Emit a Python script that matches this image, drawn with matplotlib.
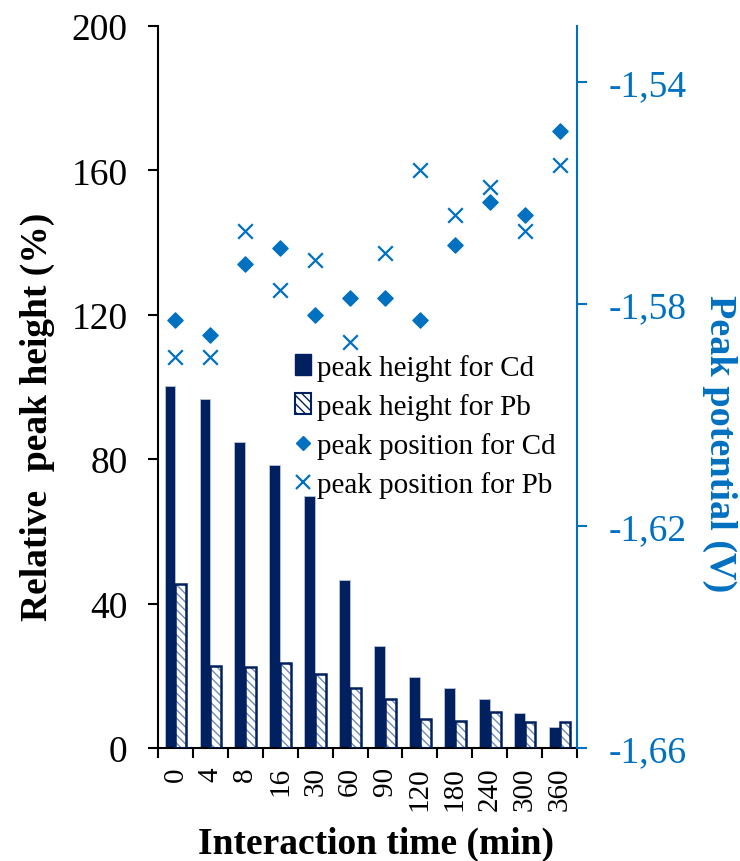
import numpy as np
import matplotlib.pyplot as plt
from matplotlib.lines import Line2D
from matplotlib.patches import Patch

plt.rcParams['font.family'] = ['Liberation Serif', 'DejaVu Serif']

times = ['0', '4', '8', '16', '30', '60', '90', '120', '180', '240', '300', '360']
height_cd = [100.3, 96.7, 84.8, 78.4, 69.8, 46.6, 28.2, 19.7, 16.5, 13.5, 9.8, 5.9]
height_pb = [45.5, 22.7, 22.4, 23.5, 20.5, 16.6, 13.6, 8.0, 7.6, 10.0, 7.2, 7.2]
pos_cd = [-1.5829, -1.5856, -1.5729, -1.5699, -1.5820, -1.5789,
          -1.5789, -1.5829, -1.5695, -1.5616, -1.5640, -1.5489]
pos_pb = [-1.5896, -1.5896, -1.5670, -1.5776, -1.5722, -1.5869,
          -1.5709, -1.5559, -1.5640, -1.5589, -1.5670, -1.5550]

navy = '#002060'
blue = '#0070C0'

W, H = 740, 862
fig = plt.figure(figsize=(W / 100, H / 100), dpi=100)
ax = fig.add_axes([158 / W, 1 - 749 / H, 419 / W, 722 / H])
x = np.arange(len(times))
w = 0.31

ax.bar(x - w / 2, height_cd, w, color=navy, edgecolor='#b8c4d8', linewidth=0.6, zorder=2)
ax.bar(x + w / 2, height_pb, w, color='white', edgecolor='#6f8bb8', hatch='\\\\\\\\',
       linewidth=0, zorder=2)
ax.bar(x + w / 2, height_pb, w, color='none', edgecolor=navy, linewidth=1.8, zorder=3)

ax.set_xlim(-0.5, len(times) - 0.5)
ax.set_ylim(0, 200)
ax.set_yticks([0, 40, 80, 120, 160, 200])
ax.set_xticks(np.arange(len(times) + 1) - 0.5)
ax.set_xticklabels([])
ax.set_xticks(x, minor=True)
ax.set_xticklabels(times, minor=True, rotation=90)
ax.tick_params(axis='x', which='major', direction='out', length=7, width=1.5)
ax.tick_params(axis='x', which='minor', length=0, labelsize=21, pad=13)
ax.tick_params(axis='y', direction='out', length=7, width=1.5, labelsize=27, pad=15)
for s in ['left', 'bottom']:
    ax.spines[s].set_linewidth(1.5)
ax.spines['top'].set_visible(False)
ax.spines['right'].set_visible(False)

ax2 = ax.twinx()
ax2.scatter(x, pos_cd, marker='D', s=60, color=blue, zorder=4)
ax2.scatter(x, pos_pb, marker='x', s=110, color=blue, linewidths=1.6, zorder=4)
ax2.set_ylim(-1.66, -1.53)
ax2.set_yticks([-1.66, -1.62, -1.58, -1.54])
ax2.set_yticklabels(['-1,66', '-1,62', '-1,58', '-1,54'])
ax2.tick_params(axis='y', direction='out', length=7, width=1.5, colors=blue,
                labelsize=27, pad=16)
ax2.spines['right'].set_color(blue)
ax2.spines['right'].set_linewidth(1.5)
for s in ['top', 'left', 'bottom']:
    ax2.spines[s].set_visible(False)

# axis titles placed in figure pixels
fig.text(37 / W, 1 - 417 / H, 'Relative  peak height (%)', fontsize=27, fontweight='bold',
         rotation=90, ha='center', va='center')
fig.text(720 / W, 1 - 444 / H, 'Peak potential (V)', fontsize=27.5, fontweight='bold',
         color=blue, rotation=270, ha='center', va='center')
fig.text(376 / W, 1 - 854 / H, 'Interaction time (min)', fontsize=27, fontweight='bold',
         ha='center', va='baseline')

handles = [
    Patch(facecolor=navy, edgecolor=navy),
    Patch(facecolor='white', edgecolor=navy, hatch='\\\\\\\\', linewidth=1.5),
    Line2D([], [], marker='D', linestyle='none', color=blue, markersize=7),
    Line2D([], [], marker='x', linestyle='none', color=blue, markersize=10, markeredgewidth=1.6),
]
labels = ['peak height for Cd', 'peak height for Pb',
          'peak position for Cd', 'peak position for Pb']
ax2.legend(handles, labels, loc='upper left', bbox_to_anchor=(0.30, 0.5625),
           frameon=False, fontsize=21, handlelength=0.55, handletextpad=0.2,
           labelspacing=0.42, borderaxespad=0)

fig.savefig('out.png', dpi=100)
